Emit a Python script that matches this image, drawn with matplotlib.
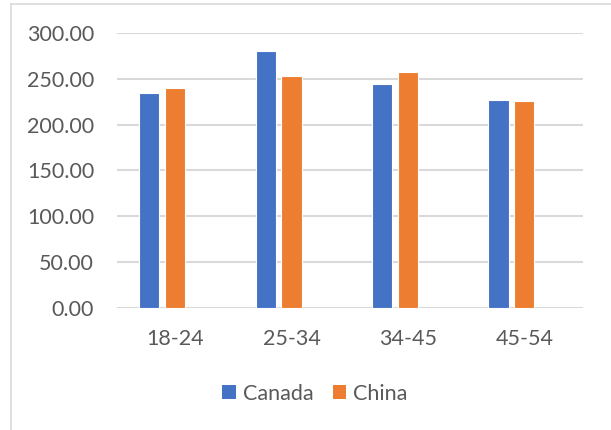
import matplotlib
matplotlib.use("Agg")
import matplotlib.pyplot as plt
from matplotlib.patches import Patch
from matplotlib.lines import Line2D
import numpy as np

plt.rcParams['font.family'] = ['Lato', 'DejaVu Sans']

categories = ["18-24", "25-34", "34-45", "45-54"]
canada = [234.0, 279.7, 243.8, 226.4]
china = [239.5, 252.5, 257.5, 225.6]
yticks = [0, 50, 100, 150, 200, 250, 300]

BLUE = "#4472C4"
ORANGE = "#ED7D31"
GRID = "#D9D9D9"
TEXT = "#595959"

W, H = 611, 430
fig = plt.figure(figsize=(W / 100, H / 100), dpi=100)
ax = fig.add_axes([117 / W, 121.7 / H, 465.5 / W, 275.6 / H])

x = np.arange(len(categories))
bw = 0.174
ax.bar(x - 0.222, canada, width=bw, color=BLUE, edgecolor="white", linewidth=0.8, zorder=3)
ax.bar(x, china, width=bw, color=ORANGE, edgecolor="white", linewidth=0.8, zorder=3)

ax.set_xlim(-0.5, 3.5)
ax.set_ylim(0, 300)
ax.set_yticks(yticks)
ax.set_yticklabels([f"{v:.2f}" for v in yticks])
ax.set_xticks(x)
ax.set_xticklabels(categories)
ax.yaxis.grid(True, color=GRID, linewidth=1.5, zorder=0)
ax.set_axisbelow(True)
for s in ax.spines.values():
    s.set_visible(False)
ax.tick_params(axis="both", length=0, labelsize=15.5, colors=TEXT)
ax.tick_params(axis="y", pad=16.5)
ax.tick_params(axis="x", pad=15)
ax.set_facecolor("none")

# chart area border
fig.add_artist(Line2D([10.5 / W, 1.0], [1 - 4 / H, 1 - 4 / H], color=GRID, linewidth=1.2, transform=fig.transFigure))
fig.add_artist(Line2D([10.5 / W, 10.5 / W], [0, 1 - 4 / H], color=GRID, linewidth=1.2, transform=fig.transFigure))

handles = [Patch(facecolor=BLUE, label="Canada"), Patch(facecolor=ORANGE, label="China")]
fig.legend(handles=handles, loc="center", bbox_to_anchor=(315 / W, 1 - 394 / H), ncol=2,
           frameon=False, fontsize=15.5, labelcolor=TEXT, handlelength=0.63, handleheight=0.63,
           handletextpad=0.33, columnspacing=0.9)

fig.savefig("out.png", dpi=100)
